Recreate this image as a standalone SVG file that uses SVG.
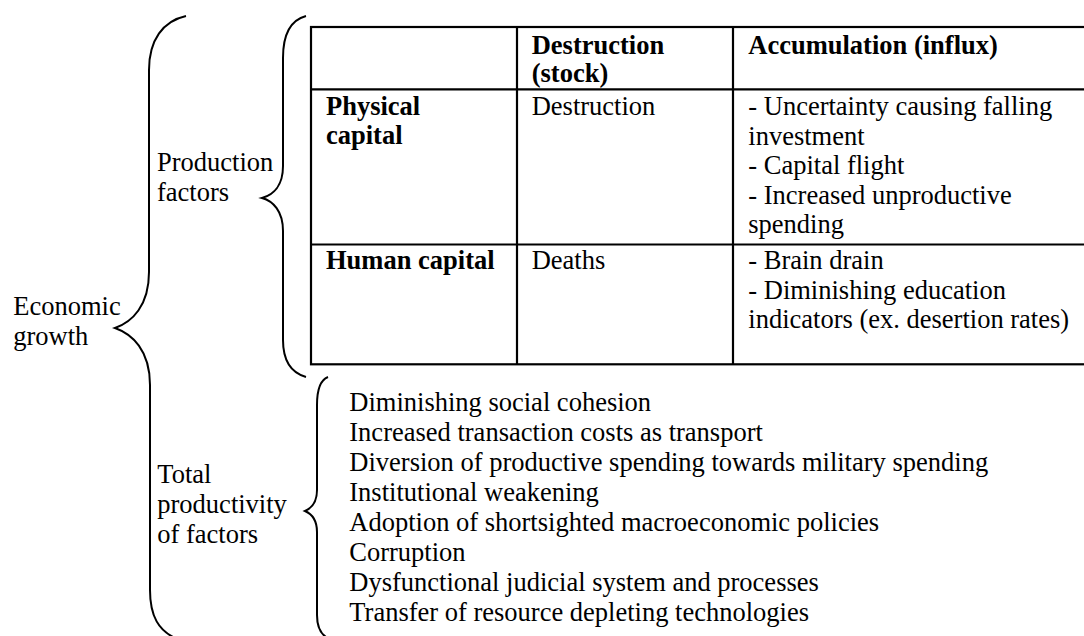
<svg xmlns="http://www.w3.org/2000/svg" width="1084" height="636" viewBox="0 0 1084 636">
<style>
text { font-family: "Liberation Serif", "Times New Roman", serif; font-size: 26.5px; fill: #000; }
.b { font-weight: bold; }
.brace { fill: none; stroke: #000; stroke-width: 2; }
.grid { fill: none; stroke: #000; stroke-width: 2.2; }
</style>
<rect width="1084" height="636" fill="#fff"/>
<g id="connectors">
<path class="brace" d="M186,16 C163,21 149,40 149,70 L149,272 C149,306 132,322 115,328 C132,334 150,350 150,385 L150,590 C150,618 160,630 173,637"/>
<path class="brace" d="M306,16 C291,20 283,34 283,58 L283,166 C283,186 273,195 262,198 C273,201 283,211 283,231 L283,340 C283,362 292,373 306,377"/>
<path class="brace" d="M328,377 C320,380 317,390 317,405 L317,490 C317,502 312,508 305,511 C312,514 317,520 317,532 L317,615 C317,627 320,633 326,637"/>
</g>
<g id="economic-growth">
<text x="13.3" y="315">Economic</text>
<text x="13.3" y="345">growth</text>
</g>
<g id="production-factors">
<text x="157" y="170.5">Production</text>
<text x="157" y="200.5">factors</text>
</g>
<g id="total-productivity">
<text x="157.3" y="483">Total</text>
<text x="157.3" y="513">productivity</text>
<text x="157.3" y="543">of factors</text>
</g>
<g id="table">
<rect class="grid" x="311" y="27" width="790" height="337.3"/>
<line class="grid" x1="311" y1="89.3" x2="1090" y2="89.3"/>
<line class="grid" x1="311" y1="244.5" x2="1090" y2="244.5"/>
<line class="grid" x1="517" y1="27" x2="517" y2="364.3"/>
<line class="grid" x1="733" y1="27" x2="733" y2="364.3"/>
<text class="b" x="531.7" y="53.5">Destruction</text>
<text class="b" x="531.7" y="82">(stock)</text>
<text class="b" x="748.3" y="53.5">Accumulation (influx)</text>
<text class="b" x="326" y="115">Physical</text>
<text class="b" x="326" y="144">capital</text>
<text x="531.7" y="115">Destruction</text>
<text x="748.3" y="115">- Uncertainty causing falling</text>
<text x="748.3" y="144.6">investment</text>
<text x="748.3" y="174.2">- Capital flight</text>
<text x="748.3" y="203.8">- Increased unproductive</text>
<text x="748.3" y="233.4">spending</text>
<text class="b" x="326" y="269">Human capital</text>
<text x="531.7" y="269">Deaths</text>
<text x="748.3" y="269">- Brain drain</text>
<text x="748.3" y="298.6">- Diminishing education</text>
<text x="748.3" y="328.2">indicators (ex. desertion rates)</text>
</g>
<g id="tfp-list">
<text x="349.3" y="410.7">Diminishing social cohesion</text>
<text x="349.3" y="440.8">Increased transaction costs as transport</text>
<text x="349.3" y="470.9">Diversion of productive spending towards military spending</text>
<text x="349.3" y="501">Institutional weakening</text>
<text x="349.3" y="531.1">Adoption of shortsighted macroeconomic policies</text>
<text x="349.3" y="561.2">Corruption</text>
<text x="349.3" y="591.3">Dysfunctional judicial system and processes</text>
<text x="349.3" y="621.4">Transfer of resource depleting technologies</text>
</g>
</svg>
